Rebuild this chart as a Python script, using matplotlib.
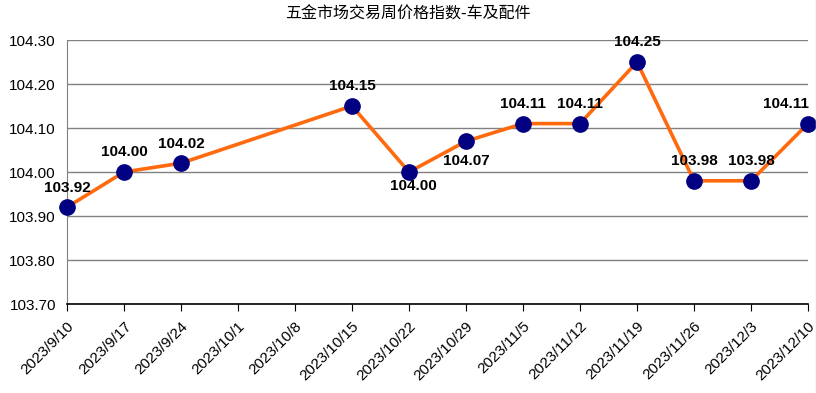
import matplotlib
matplotlib.use("Agg")
import matplotlib.pyplot as plt
from matplotlib.lines import Line2D
import numpy as np

dates = ["2023/9/10", "2023/9/17", "2023/9/24", "2023/10/1", "2023/10/8", "2023/10/15",
         "2023/10/22", "2023/10/29", "2023/11/5", "2023/11/12", "2023/11/19", "2023/11/26",
         "2023/12/3", "2023/12/10"]
values = [103.92, 104.00, 104.02, None, None, 104.15, 104.00, 104.07, 104.11, 104.11,
          104.25, 103.98, 103.98, 104.11]
title = "五金市场交易周价格指数-车及配件"

plt.rcParams['font.family'] = ['Liberation Sans', 'Noto Sans CJK SC', 'DejaVu Sans']

fig = plt.figure(figsize=(8.16, 3.93), dpi=100)
ax = fig.add_axes([67/816, 1-304/393, (808-67)/816, (304-40)/393])

x = np.arange(len(dates))
xs = [i for i, v in zip(x, values) if v is not None]
ys = [v for v in values if v is not None]
ax.plot(xs, ys, color='#FF6A0E', lw=2.6, zorder=3, clip_on=False)
ax.plot(xs, ys, 'o', color='#000080', markersize=11, zorder=4, clip_on=False)

# label offsets in points (dx, dy) relative to point, baseline-bottom anchored
offsets = {6: (3, -15), 7: (0, -19), 13: (-16, 9)}
for xi, yi in zip(xs, ys):
    dx, dy = offsets.get(xi, (0, 9))
    ax.annotate(f"{yi:.2f}", (xi, yi), xytext=(dx, dy), textcoords='offset points',
                ha='center', va='bottom', fontsize=11, fontweight='bold', zorder=5)

ax.set_xlim(0, len(dates)-1)
ax.set_ylim(103.70, 104.30)
yt = np.arange(103.70, 104.31, 0.10)
ax.set_yticks(yt)
ax.set_yticklabels([f"{v:.2f}" for v in yt], fontsize=11)
ax.set_xticks(x)
ax.set_xticklabels(dates, rotation=45, ha='right', rotation_mode='anchor', fontsize=11)
ax.tick_params(axis='y', length=0, pad=8)
ax.tick_params(axis='x', length=5, color='#000000', pad=6)
ax.grid(axis='y', color='#808080', lw=1)
ax.set_axisbelow(True)
for s in ['top', 'right']:
    ax.spines[s].set_visible(False)
ax.spines['left'].set_color('#808080')
ax.spines['bottom'].set_color('#000000')
ax.spines['bottom'].set_linewidth(1.2)

fig.text(0.5, 1-14/393, title, ha='center', va='center', fontsize=11.5,
         family=['Noto Sans CJK SC', 'DejaVu Sans'])

fig.add_artist(Line2D([815.5/816, 815.5/816], [0, 1], color='#C8E6C8', lw=1,
                      transform=fig.transFigure))

fig.savefig("out.png", dpi=100)
